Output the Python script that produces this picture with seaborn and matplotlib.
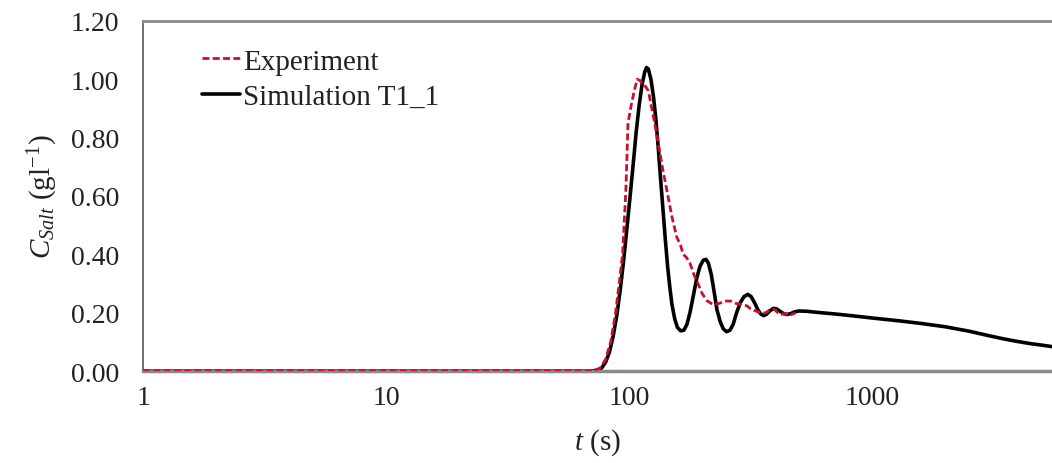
import numpy as np
import pandas as pd
import matplotlib
matplotlib.use("Agg")
import matplotlib.pyplot as plt
import matplotlib.ticker as mticker
import seaborn as sns

# Simulation T1_1 (time in s, concentration in g/l)
sim_t = [1, 10, 50, 70, 74, 77, 80, 83, 86, 89, 92, 95, 98, 101, 104, 107, 110, 113, 116,
         118, 120, 123, 126, 129, 132, 135, 138, 141, 144, 147, 150, 154, 158, 163, 168,
         173, 178, 184, 190, 196, 202, 207, 212, 218, 224, 230, 237, 244, 252, 260, 268,
         277, 287, 297, 308, 318, 328, 338, 348, 358, 368, 380, 393, 405, 418, 432, 446,
         462, 480, 500, 540, 600, 700, 800, 1000, 1300, 1600, 2000, 2500, 3000, 3500,
         4000, 4500, 5000, 5600]
sim_c = [0, 0, 0, 0, 0.003, 0.01, 0.03, 0.065, 0.12, 0.19, 0.28, 0.38, 0.49, 0.60, 0.71,
         0.82, 0.91, 0.98, 1.025, 1.04, 1.035, 1.00, 0.94, 0.86, 0.76, 0.65, 0.55, 0.45,
         0.36, 0.29, 0.23, 0.18, 0.15, 0.138, 0.14, 0.16, 0.20, 0.26, 0.32, 0.36, 0.38,
         0.383, 0.37, 0.33, 0.27, 0.21, 0.17, 0.145, 0.135, 0.14, 0.16, 0.20, 0.235,
         0.255, 0.263, 0.255, 0.235, 0.212, 0.196, 0.19, 0.195, 0.207, 0.215, 0.213,
         0.205, 0.197, 0.194, 0.197, 0.203, 0.206, 0.205, 0.201, 0.196, 0.191, 0.182,
         0.172, 0.163, 0.152, 0.137, 0.122, 0.110, 0.101, 0.094, 0.089, 0.083]

# Experiment
exp_t = [1, 50, 70, 76, 80, 84, 88, 91, 94, 97, 99, 102, 105, 108, 111, 114, 117, 120,
         124, 128, 132, 137, 143, 150, 157, 163, 167, 172, 178, 185, 192, 200, 210, 222,
         235, 248, 262, 275, 290, 305, 320, 335, 350, 365, 380, 395, 410, 425, 440, 455,
         470, 485]
exp_c = [0, 0, 0.0, 0.01, 0.04, 0.10, 0.20, 0.30, 0.40, 0.62, 0.85, 0.91, 0.96, 1.00,
         0.995, 0.98, 0.975, 0.96, 0.90, 0.84, 0.78, 0.70, 0.62, 0.53, 0.46, 0.43, 0.40,
         0.39, 0.37, 0.33, 0.30, 0.265, 0.24, 0.228, 0.232, 0.24, 0.24, 0.232, 0.228,
         0.224, 0.21, 0.205, 0.198, 0.20, 0.21, 0.212, 0.20, 0.195, 0.198, 0.19, 0.195,
         0.20]

y_ticks = [0.0, 0.2, 0.4, 0.6, 0.8, 1.0, 1.2]
x_ticks = [1, 10, 100, 1000]

sns.set_theme(style="white")
plt.rcParams['font.family'] = ['Liberation Serif', 'DejaVu Serif']
plt.rcParams['mathtext.fontset'] = 'custom'
plt.rcParams['mathtext.rm'] = 'Liberation Serif'
plt.rcParams['mathtext.it'] = 'Liberation Serif:italic'

FS = 21
fig = plt.figure(figsize=(10.52, 4.64), dpi=100)
ax = fig.add_axes([0.136, 0.198, 0.864, 0.755])

df_exp = pd.DataFrame({"t": exp_t, "c": exp_c})
df_sim = pd.DataFrame({"t": sim_t, "c": sim_c})

sns.lineplot(data=df_exp, x="t", y="c", ax=ax, color="#c8102e", lw=2.0,
             linestyle=(0, (2.5, 1.2)), label="Experiment", zorder=3)
sns.lineplot(data=df_sim, x="t", y="c", ax=ax, color="black", lw=2.6,
             label="Simulation T1_1", zorder=2)

ax.set_xscale("log")
ax.set_xlim(1, 5500)
ax.set_ylim(0, 1.2)
ax.set_xticks(x_ticks)
ax.set_xticklabels([str(v) for v in x_ticks])
ax.xaxis.set_minor_locator(mticker.LogLocator(base=10, subs=np.arange(2, 10)))
ax.xaxis.set_minor_formatter(mticker.NullFormatter())
ax.set_yticks(y_ticks)
ax.set_yticklabels([f"{v:.2f}" for v in y_ticks])

ax.tick_params(axis="both", which="both", direction="in", labelsize=20, colors="#222222")
ax.tick_params(axis="x", which="major", length=5, width=1, pad=10, color="#555555")
ax.tick_params(axis="x", which="minor", length=5, width=1, color="#555555")
ax.tick_params(axis="y", which="major", length=4, width=1, pad=17, color="#555555")

for s in ["top", "left", "bottom"]:
    ax.spines[s].set_visible(True)
ax.spines["top"].set_color("#8a8a8a")
ax.spines["top"].set_linewidth(2.0)
ax.spines["bottom"].set_color("#8a8a8a")
ax.spines["bottom"].set_linewidth(2.5)
ax.spines["left"].set_color("#555555")
ax.spines["left"].set_linewidth(1.2)
ax.spines["right"].set_visible(False)

ax.set_xlabel(r"$t$ (s)", fontsize=FS, color="#222222", labelpad=12)
ax.set_ylabel(r"$C_{Salt}$ (gl$^{-1}$)", fontsize=FS, color="#222222", labelpad=8)

leg = ax.legend(loc="upper left", bbox_to_anchor=(0.052, 0.955), frameon=False,
                fontsize=FS, handlelength=1.3, handletextpad=0.1, labelspacing=0.3,
                borderaxespad=0)
for txt in leg.get_texts():
    txt.set_color("#222222")

fig.savefig("out.png", dpi=100)
